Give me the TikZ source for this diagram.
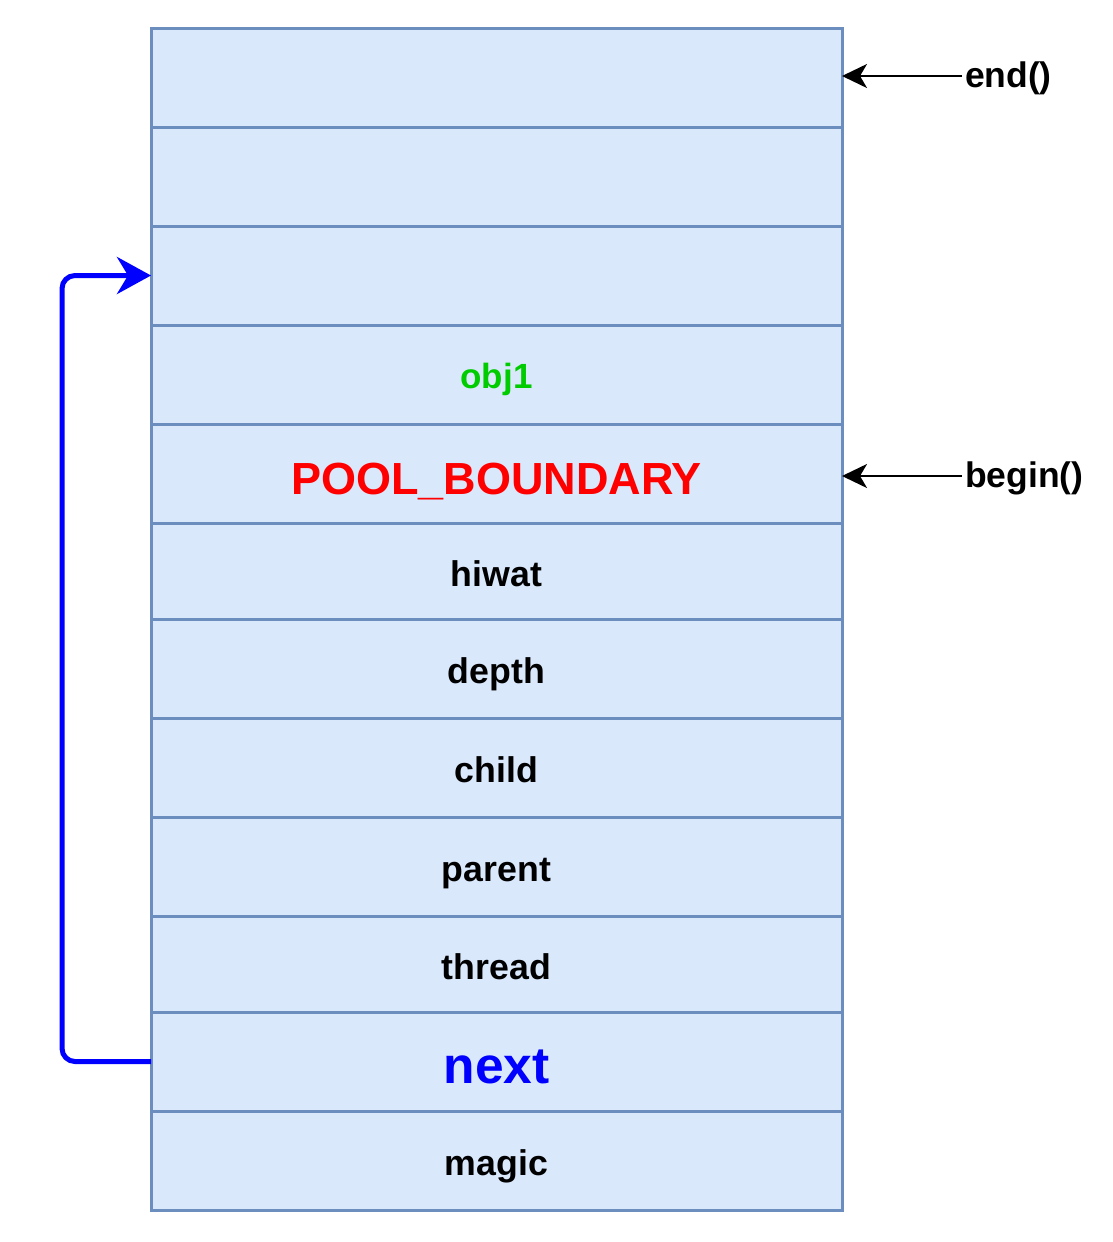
\documentclass[tikz,border=0pt]{standalone}
\usepackage{fontspec}
\setmainfont{Liberation Sans}
\usetikzlibrary{arrows.meta}
\definecolor{cellfill}{HTML}{DAE8FC}
\definecolor{celldraw}{HTML}{6C8EBF}
\definecolor{objgreen}{HTML}{00CC00}
\tikzset{
  cell/.style={draw=celldraw, fill=cellfill, line width=3pt, minimum width=691pt, inner sep=0pt, outer sep=0pt, text height=30pt, text depth=0pt, font=\bfseries\fontsize{35.7}{40}\selectfont},
  ptrlabel/.style={anchor=west, inner sep=0pt, outer sep=3pt, text height=24pt, text depth=2pt, font=\bfseries\fontsize{35.5}{40}\selectfont},
  ptrarrow/.style={line width=2.3pt, -{Stealth[length=25pt, width=24pt, inset=7pt]}},
  nextarrow/.style={draw=blue, line width=5pt, rounded corners=13pt, -{Stealth[length=34pt, width=37pt, inset=11pt]}}
}
\begin{document}
\begin{tikzpicture}[x=1pt, y=-1pt]
\useasboundingbox (0,0) rectangle (1113,1242);
\node[cell, minimum height=99pt] (r1) at (496.5,77.5) {};
\node[cell, minimum height=99pt] (r2) at (496.5,176.5) {};
\node[cell, minimum height=99pt] (r3) at (496.5,275.5) {};
\node[cell, minimum height=99pt, text=objgreen, text height=27pt, font=\bfseries\fontsize{35}{40}\selectfont] (r4) at (496.5,374.5) {obj1};
\node[cell, minimum height=99pt, text=red, text height=41pt, font=\bfseries\fontsize{45}{50}\selectfont] (r5) at (496.5,473.5) {POOL\_BOUNDARY};
\node[cell, minimum height=96pt] (r6) at (496.5,571) {hiwat};
\node[cell, minimum height=99pt] (r7) at (496.5,668.5) {depth};
\node[cell, minimum height=99pt] (r8) at (496.5,767.5) {child};
\node[cell, minimum height=99pt] (r9) at (496.5,866.5) {parent};
\node[cell, minimum height=96pt] (r10) at (496.5,964) {thread};
\node[cell, minimum height=99pt, text=blue, text height=43pt, font=\bfseries\fontsize{51.5}{56}\selectfont] (r11) at (496.5,1061.5) {next};
\node[cell, minimum height=99pt] (r12) at (496.5,1160.5) {magic};
\node[ptrlabel] (endl) at (962,76) {end()};
\node[ptrlabel] (beginl) at (962,476) {begin()};
\draw[ptrarrow] (endl.west) -- (r1.east |- endl.west);
\draw[ptrarrow] (beginl.west) -- (r5.east |- beginl.west);
\draw[nextarrow] (r11.west) -- (62,1061.5) -- (62,275.5) -- (r3.west);
\end{tikzpicture}
\end{document}
